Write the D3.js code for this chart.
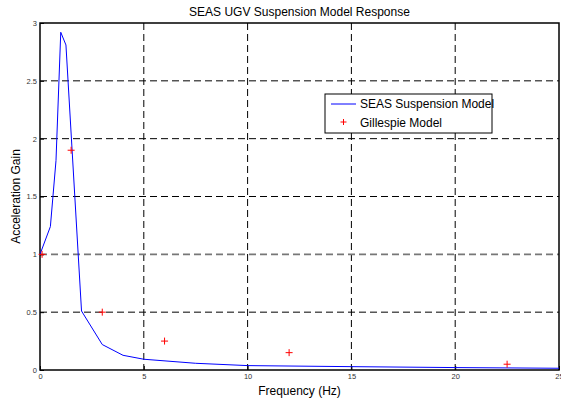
<!DOCTYPE html>
<html>
<head>
<meta charset="utf-8">
<script src="https://cdn.jsdelivr.net/npm/d3@7"></script>
<style>
  body { margin: 0; background: #fff; }
  svg text { font-family: "Liberation Sans", Arial, sans-serif; }
</style>
</head>
<body>
<div id="vis"></div>
<script>
const FRAME_WIDTH = 561;
const FRAME_HEIGHT = 401;
const MARGINS = {left: 40, right: 2, top: 23, bottom: 31};

// SEAS suspension model (blue line)
const modelFreq = [0, 0.5, 0.77, 1, 1.25, 2, 3, 4, 5, 7.5, 10, 15, 20, 25];
const modelGain = [1.0, 1.24, 1.81, 2.92, 2.81, 0.51, 0.22, 0.127, 0.093, 0.058, 0.038, 0.029, 0.021, 0.015];

// Gillespie model (red crosses)
const gillFreq = [0.1, 1.5, 3, 6, 12, 22.5];
const gillGain = [1.0, 1.9, 0.5, 0.25, 0.15, 0.05];

const xTicks = [0, 5, 10, 15, 20, 25];
const yTicks = [0, 0.5, 1, 1.5, 2, 2.5, 3];

const VIS_WIDTH = FRAME_WIDTH - MARGINS.left - MARGINS.right;
const VIS_HEIGHT = FRAME_HEIGHT - MARGINS.top - MARGINS.bottom;

const FRAME = d3.select("#vis")
  .append("svg")
    .attr("width", FRAME_WIDTH)
    .attr("height", FRAME_HEIGHT);

const X_SCALE = d3.scaleLinear().domain([0, 25]).range([0, VIS_WIDTH]);
const Y_SCALE = d3.scaleLinear().domain([0, 3]).range([VIS_HEIGHT, 0]);

const plot = FRAME.append("g")
  .attr("transform", "translate(" + MARGINS.left + "," + MARGINS.top + ")");

// grid
plot.selectAll(".vgrid")
  .data(xTicks.slice(1, -1))
  .enter().append("line")
    .attr("x1", d => X_SCALE(d)).attr("x2", d => X_SCALE(d))
    .attr("y1", 0).attr("y2", VIS_HEIGHT)
    .attr("stroke", "#000").attr("stroke-width", 1)
    .attr("stroke-dasharray", "7,4");

plot.selectAll(".hgrid")
  .data(yTicks.slice(1, -1))
  .enter().append("line")
    .attr("x1", 0).attr("x2", VIS_WIDTH)
    .attr("y1", d => Y_SCALE(d)).attr("y2", d => Y_SCALE(d))
    .attr("stroke", d => d === 1 ? "#777" : "#000")
    .attr("stroke-width", d => d === 1 ? 1.6 : 1)
    .attr("stroke-dasharray", "7,4");

// axes
const xAxis = plot.append("g")
  .attr("transform", "translate(0," + VIS_HEIGHT + ")")
  .call(d3.axisBottom(X_SCALE).tickValues(xTicks).tickSize(-4).tickPadding(4));
const yAxis = plot.append("g")
  .call(d3.axisLeft(Y_SCALE).tickValues(yTicks).tickFormat(d3.format("")).tickSize(-4).tickPadding(3));

[xAxis, yAxis].forEach(a => {
  a.select(".domain").remove();
  a.selectAll("line").attr("stroke", "#000");
  a.selectAll("text").attr("font-size", "7.5px").attr("fill", "#333")
    .style("font-family", "Liberation Sans, Arial, sans-serif");
});

// frame box
plot.append("rect")
  .attr("x", 0).attr("y", 0)
  .attr("width", VIS_WIDTH).attr("height", VIS_HEIGHT)
  .attr("fill", "none").attr("stroke", "#000").attr("stroke-width", 1.5);

// model line
const line = d3.line()
  .x((d, i) => X_SCALE(modelFreq[i]))
  .y(d => Y_SCALE(d));

plot.append("path")
  .datum(modelGain)
  .attr("d", line)
  .attr("fill", "none")
  .attr("stroke", "#0000ff")
  .attr("stroke-width", 1);

// gillespie crosses
const cross = plot.selectAll(".cross")
  .data(gillGain)
  .enter().append("g")
    .attr("transform", (d, i) => "translate(" + X_SCALE(gillFreq[i]) + "," + Y_SCALE(d) + ")");
cross.append("line").attr("x1", -3.5).attr("x2", 3.5).attr("y1", 0).attr("y2", 0)
  .attr("stroke", "#ff0000").attr("stroke-width", 1);
cross.append("line").attr("x1", 0).attr("x2", 0).attr("y1", -3.5).attr("y2", 3.5)
  .attr("stroke", "#ff0000").attr("stroke-width", 1);

// legend
const legend = FRAME.append("g").attr("transform", "translate(325,94)");
legend.append("rect")
  .attr("width", 167).attr("height", 39)
  .attr("fill", "#fff").attr("stroke", "#000").attr("stroke-width", 1);
legend.append("line")
  .attr("x1", 6).attr("x2", 31).attr("y1", 10).attr("y2", 10)
  .attr("stroke", "#0000ff").attr("stroke-width", 1);
legend.append("text").attr("x", 35).attr("y", 14)
  .attr("font-size", "12px").text("SEAS Suspension Model");
legend.append("line").attr("x1", 15.5).attr("x2", 21.5).attr("y1", 28).attr("y2", 28)
  .attr("stroke", "#ff0000");
legend.append("line").attr("x1", 18.5).attr("x2", 18.5).attr("y1", 25).attr("y2", 31)
  .attr("stroke", "#ff0000");
legend.append("text").attr("x", 35).attr("y", 33)
  .attr("font-size", "12px").text("Gillespie Model");

// title and labels
FRAME.append("text")
  .attr("x", MARGINS.left + VIS_WIDTH / 2).attr("y", 16)
  .attr("text-anchor", "middle").attr("font-size", "12px")
  .text("SEAS UGV Suspension Model Response");

FRAME.append("text")
  .attr("x", MARGINS.left + VIS_WIDTH / 2).attr("y", 395)
  .attr("text-anchor", "middle").attr("font-size", "12px")
  .text("Frequency (Hz)");

FRAME.append("text")
  .attr("transform", "translate(20," + (MARGINS.top + VIS_HEIGHT / 2) + ") rotate(-90)")
  .attr("text-anchor", "middle").attr("font-size", "12px")
  .text("Acceleration Gain");
</script>
</body>
</html>
